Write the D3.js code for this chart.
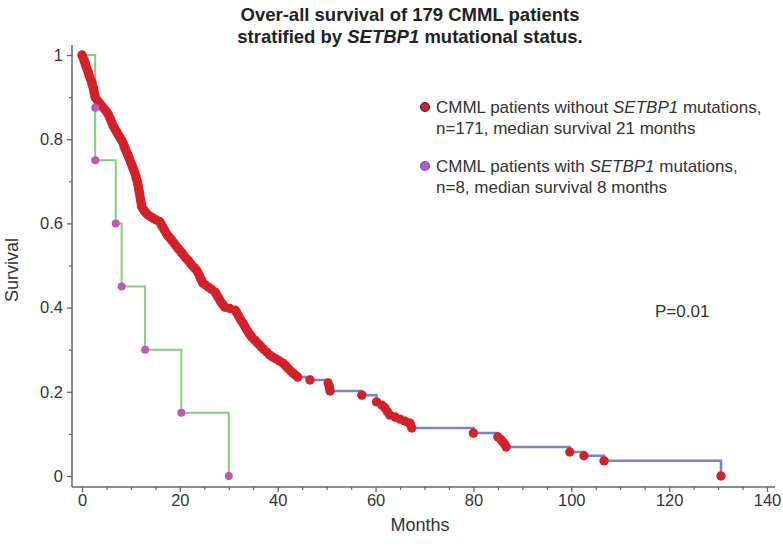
<!DOCTYPE html>
<html><head><meta charset="utf-8">
<script src="https://cdn.jsdelivr.net/npm/d3@7"></script>
<style>
html,body{margin:0;padding:0;background:#fff;}
svg{display:block;font-family:"Liberation Sans",Arial,Helvetica,sans-serif;}
</style></head>
<body>
<svg id="chart" width="783" height="549"></svg>
<script>
// ---- data ----
const xTicks = [0, 20, 40, 60, 80, 100, 120, 140];
const yTicks = [0, 0.2, 0.4, 0.6, 0.8, 1];
const yTickLabels = ["0", "0.2", "0.4", "0.6", "0.8", "1"];

// CMML without SETBP1 mutations (n=171): event times (months) and survival
const wildMonths = [0.0,0.2,0.4,0.6,0.7,0.9,1.1,1.3,1.4,1.6,1.8,2.0,2.1,2.3,2.4,2.5,2.6,2.7,
 3.1,3.5,3.9,4.3,4.7,5.1,5.4,5.7,5.9,6.1,6.3,6.6,6.9,7.2,7.5,7.8,8.1,8.4,8.6,8.8,9.0,9.2,9.4,
 9.6,9.8,10.0,10.2,10.4,10.6,10.8,11.0,11.1,11.3,11.4,11.5,11.6,11.7,11.8,11.9,12.0,12.1,12.2,
 12.5,12.8,13.1,13.5,14.0,14.6,15.2,15.9,16.2,16.5,16.8,17.1,17.4,17.7,18.0,18.4,18.8,19.2,19.6,20.0,20.4,
 20.8,21.2,21.7,22.1,22.5,22.9,23.4,23.7,24.0,24.2,24.5,24.7,25.3,25.9,26.5,27.2,27.5,27.8,28.1,28.4,28.8,29.2,
 30.2,31.3,31.6,31.9,32.2,32.5,32.9,33.2,33.5,33.8,34.1,34.4,34.7,35.2,35.7,36.2,36.7,37.2,37.8,38.4,
 39.0,39.7,40.4,41.1,41.6,42.1,42.6,43.1,43.6,44.1,
 46.6,50.3,50.5,50.6,50.7,57.2,60.2,61.3,61.9,62.4,62.9,64.0,65.0,66.0,67.0,67.2,67.4,
 80.0,85.0,85.6,86.0,86.4,86.7,99.7,102.6,106.7,130.6];
const wildSurv = [1.0,0.994,0.988,0.982,0.977,0.971,0.965,0.959,0.953,0.947,0.941,0.935,0.929,0.923,0.917,0.911,0.905,0.899,
 0.893,0.887,0.881,0.876,0.870,0.864,0.858,0.850,0.845,0.839,0.833,0.827,0.821,0.815,0.809,0.803,0.797,0.791,0.784,0.778,0.772,0.767,0.762,
 0.756,0.750,0.744,0.738,0.732,0.726,0.720,0.713,0.707,0.700,0.694,0.688,0.681,0.675,0.668,0.661,0.654,0.647,0.640,
 0.634,0.629,0.625,0.620,0.616,0.612,0.608,0.604,0.597,0.591,0.585,0.579,0.573,0.569,0.565,0.559,0.553,0.547,0.541,0.536,0.530,
 0.524,0.518,0.512,0.506,0.500,0.495,0.489,0.483,0.476,0.470,0.464,0.458,0.453,0.448,0.443,0.437,0.431,0.425,0.419,0.413,0.407,0.401,
 0.398,0.394,0.388,0.382,0.376,0.370,0.363,0.357,0.351,0.345,0.339,0.335,0.330,0.324,0.318,0.312,0.306,0.300,0.294,0.287,
 0.282,0.278,0.273,0.268,0.262,0.256,0.250,0.245,0.240,0.235,
 0.228,0.221,0.214,0.208,0.202,0.192,0.176,0.168,0.162,0.153,0.145,0.140,0.135,0.130,0.126,0.120,0.114,
 0.102,0.093,0.087,0.081,0.075,0.069,0.057,0.048,0.036,0.0];

// CMML with SETBP1 mutations (n=8)
const mutMonths = [0, 2.7, 2.7, 6.9, 8.1, 12.9, 20.3, 30.0];
const mutSurv   = [1, 0.875, 0.75, 0.6, 0.45, 0.3, 0.15, 0];

const titleLines = ["Over-all survival of 179 CMML patients", "stratified by |SETBP1| mutational status."];
const legendItems = [
  {lines: ["CMML patients without |SETBP1| mutations,", "n=171, median survival 21 months"], fill: "#d42127", stroke: "#2b2d6e"},
  {lines: ["CMML patients with |SETBP1| mutations,", "n=8, median survival 8 months"], fill: "#c455b6", stroke: "#5865c4"}
];

// ---- layout ----
const svg = d3.select("#chart");
const x = d3.scaleLinear().domain([0, 140]).range([82, 767]);
const y = d3.scaleLinear().domain([0, 1]).range([476, 55]);
const axisX0 = 72, axisY0 = 487, axisYTop = 45, axisXRight = 775;
const textCol = "#333";
const axisCol = "#666";
const FONT = "Liberation Sans, Arial, sans-serif";

function richText(sel, str) {
  str.split("|").forEach((part, i) => {
    if (!part) return;
    sel.append("tspan").attr("font-style", i % 2 ? "italic" : "normal").text(part);
  });
}
// title
titleLines.forEach((l, i) => {
  const t = svg.append("text").attr("x", 410).attr("y", 21 + i * 22)
    .attr("text-anchor", "middle").attr("font-size", 18.5).attr("font-weight", "bold").attr("fill", "#222");
  richText(t, l);
});

// axes lines
svg.append("line").attr("x1", axisX0).attr("x2", axisX0).attr("y1", axisYTop).attr("y2", axisY0)
  .attr("stroke", axisCol).attr("stroke-width", 1.5);
svg.append("line").attr("x1", axisX0).attr("x2", axisXRight).attr("y1", axisY0).attr("y2", axisY0)
  .attr("stroke", axisCol).attr("stroke-width", 1.5);

// x axis ticks
const gx = svg.append("g").attr("transform", `translate(0,${axisY0})`)
  .call(d3.axisBottom(x).tickValues(xTicks).tickSize(5).tickPadding(2).tickFormat(d3.format("d")));
gx.select(".domain").remove();
gx.selectAll(".tick line").attr("stroke", axisCol).attr("stroke-width", 1.3);
gx.selectAll(".tick text").attr("font-size", 16.5).attr("fill", textCol).attr("font-family", FONT);
const xMinor = d3.range(5, 141, 5).filter(v => v % 20 !== 0);
const gxm = svg.append("g").attr("transform", `translate(0,${axisY0})`)
  .call(d3.axisBottom(x).tickValues(xMinor).tickSize(3).tickFormat(""));
gxm.select(".domain").remove();
gxm.selectAll(".tick line").attr("stroke", axisCol).attr("stroke-width", 1.2);

// y axis ticks
const gy = svg.append("g").attr("transform", `translate(${axisX0},0)`)
  .call(d3.axisLeft(y).tickValues(yTicks).tickSize(5).tickPadding(4).tickFormat((d, i) => yTickLabels[i]));
gy.select(".domain").remove();
gy.selectAll(".tick line").attr("stroke", axisCol).attr("stroke-width", 1.3);
gy.selectAll(".tick text").attr("font-size", 16.5).attr("fill", textCol).attr("font-family", FONT);
const gym = svg.append("g").attr("transform", `translate(${axisX0},0)`)
  .call(d3.axisLeft(y).tickValues([0.1, 0.3, 0.5, 0.7, 0.9]).tickSize(3).tickFormat(""));
gym.select(".domain").remove();
gym.selectAll(".tick line").attr("stroke", axisCol).attr("stroke-width", 1.2);

// axis titles
svg.append("text").attr("x", 420).attr("y", 531).attr("text-anchor", "middle")
  .attr("font-size", 18).attr("fill", textCol).text("Months");
svg.append("text").attr("transform", "translate(18,270) rotate(-90)").attr("text-anchor", "middle")
  .attr("font-size", 18).attr("fill", textCol).text("Survival");

// curves
const line = d3.line().x(d => x(d[0])).y(d => y(d[1])).curve(d3.curveStepAfter);
const wild = wildMonths.map((m, i) => [m, wildSurv[i]]);
const mut = mutMonths.map((m, i) => [m, mutSurv[i]]);

svg.append("path").attr("d", line(wild)).attr("fill", "none")
  .attr("stroke", "#7486cf").attr("stroke-width", 2.5);
svg.append("path").attr("d", line(mut)).attr("fill", "none")
  .attr("stroke", "#7fcf7f").attr("stroke-width", 2);

svg.append("g").selectAll("circle").data(wild).join("circle")
  .attr("cx", d => x(d[0])).attr("cy", d => y(d[1])).attr("r", 4.7).attr("fill", "#d42127");
svg.append("g").selectAll("circle").data(mut.slice(1)).join("circle")
  .attr("cx", d => x(d[0])).attr("cy", d => y(d[1])).attr("r", 4).attr("fill", "#c455b6");

// legend
legendItems.forEach((it, i) => {
  const cy = 107 + i * 59;
  svg.append("circle").attr("cx", 425).attr("cy", cy).attr("r", 4.5)
    .attr("fill", it.fill).attr("stroke", it.stroke).attr("stroke-width", 1.2);
  it.lines.forEach((l, j) => {
    const t = svg.append("text").attr("x", 436).attr("y", cy + 6 + j * 20.5)
      .attr("font-size", 17).attr("fill", textCol);
    richText(t, l);
  });
});

svg.append("text").attr("x", 655).attr("y", 317).attr("font-size", 17).attr("fill", textCol).text("P=0.01");
</script>
</body></html>
